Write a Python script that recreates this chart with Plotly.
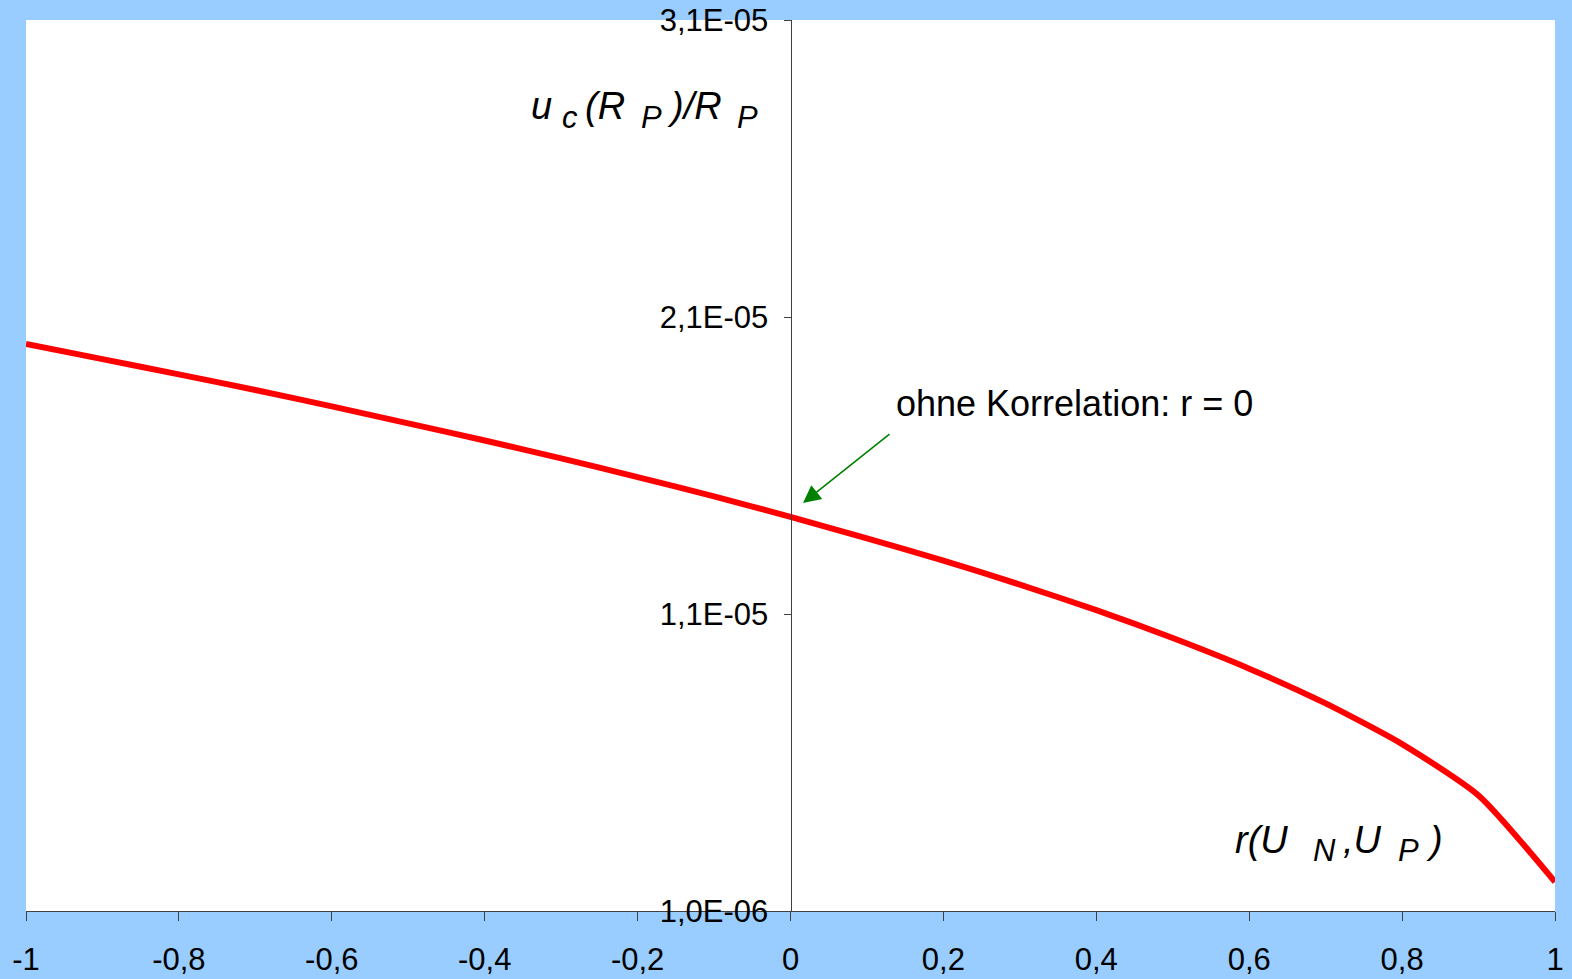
import plotly.graph_objects as go

# data
r_vals = [-1.0, -0.9, -0.8, -0.7, -0.6, -0.5, -0.4, -0.3, -0.2, -0.1,
          0.0, 0.1, 0.2, 0.3, 0.4, 0.5, 0.6, 0.7, 0.8, 0.9, 1.0]
u_vals = [2.009e-5, 1.958e-5, 1.907e-5, 1.854e-5, 1.799e-5, 1.742e-5, 1.684e-5,
          1.624e-5, 1.561e-5, 1.496e-5, 1.427e-5, 1.355e-5, 1.280e-5, 1.199e-5,
          1.113e-5, 1.019e-5, 0.916e-5, 0.799e-5, 0.662e-5, 0.489e-5, 0.198e-5]

x_ticks = [-1, -0.8, -0.6, -0.4, -0.2, 0, 0.2, 0.4, 0.6, 0.8, 1]
x_ticktext = ["-1", "-0,8", "-0,6", "-0,4", "-0,2", "0", "0,2", "0,4", "0,6", "0,8", "1"]
y_ticks = [1e-6, 1.1e-5, 2.1e-5, 3.1e-5]
y_ticktext = ["1,0E-06", "1,1E-05", "2,1E-05", "3,1E-05"]

annotation_text = "ohne Korrelation: r = 0"
# axis titles split into (text, is_subscript) pieces
y_title_pieces = [("u", False), ("c", True), ("(R", False), ("P", True), (")/R", False), ("P", True)]
x_title_pieces = [("r(U", False), ("N", True), (",U", False), ("P", True), (")", False)]

FONT = "Liberation Sans, Arial, sans-serif"
BLUE = "#99CCFF"

W, H = 1572, 979
ML, MR, MT, MB = 26, 17, 20, 68
X0, X1 = -1.0, 1.0
Y0, Y1 = 1e-6, 3.1e-5


def px_to_x(px):
    return X0 + (px - ML) / (W - ML - MR) * (X1 - X0)


def px_to_y(py):
    return Y0 + (H - MB - py) / (H - MT - MB) * (Y1 - Y0)


fig = go.Figure()
fig.add_trace(go.Scatter(x=r_vals, y=u_vals, mode="lines",
                         line=dict(color="#FF0000", width=6, shape="spline", smoothing=0.6),
                         hoverinfo="skip", showlegend=False))

fig.update_layout(
    width=W, height=H,
    paper_bgcolor=BLUE, plot_bgcolor="white",
    margin=dict(l=ML, r=MR, t=MT, b=MB, autoexpand=False),
    font=dict(family=FONT, size=31, color="black"),
    xaxis=dict(range=[X0, X1], tickvals=x_ticks, ticktext=x_ticktext, automargin=False,
               showgrid=False, zeroline=False, showline=True, linecolor="#404040",
               linewidth=1, ticks="outside", ticklen=9, tickcolor="#404040",
               tickfont=dict(size=31), ticklabelstandoff=12),
    yaxis=dict(range=[Y0, Y1], tickvals=y_ticks, ticktext=y_ticktext, automargin=False,
               anchor="free", position=0.5, showgrid=False, zeroline=False,
               showline=True, linecolor="#404040", linewidth=1, ticks="outside",
               ticklen=7, tickcolor="#404040", tickfont=dict(size=31),
               ticklabelstandoff=9),
)

annotations = [
    dict(x=px_to_x(803), y=px_to_y(503), ax=px_to_x(891), ay=px_to_y(433),
         xref="x", yref="y", axref="x", ayref="y", text="", showarrow=True,
         arrowhead=2, arrowsize=2.2, arrowwidth=1.6, arrowcolor="#008000"),
    dict(x=px_to_x(894), y=px_to_y(403), xref="x", yref="y", xanchor="left",
         yanchor="middle", text=annotation_text, showarrow=False,
         font=dict(size=36, family=FONT)),
]

MAIN_SIZE, SUB_SIZE = 38, 31


def add_pieces(pieces, lefts, base_main, base_sub):
    for (txt, sub), left in zip(pieces, lefts):
        size = SUB_SIZE if sub else MAIN_SIZE
        base = base_sub if sub else base_main
        annotations.append(dict(
            x=px_to_x(left), y=px_to_y(base - 0.35 * size), xref="x", yref="y",
            xanchor="left", yanchor="middle", text="<i>" + txt + "</i>",
            showarrow=False, font=dict(size=size, family=FONT)))


add_pieces(y_title_pieces, [529, 560, 583, 639, 665, 735], 119, 128)
add_pieces(x_title_pieces, [1233, 1311, 1341, 1396, 1424], 853, 861)

fig.update_layout(annotations=annotations)

fig.write_html("out.html", config={"displayModeBar": False},
               post_script="document.body.style.margin='0';document.body.style.overflow='hidden';")
